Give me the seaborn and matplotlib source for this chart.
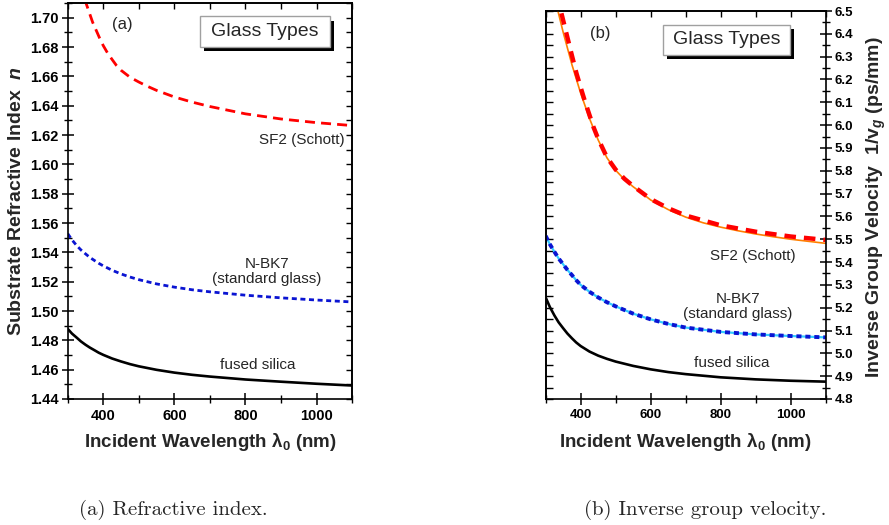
import matplotlib
matplotlib.use("Agg")
import matplotlib.pyplot as plt
import seaborn as sns
from matplotlib.ticker import MultipleLocator, FormatStrFormatter
from matplotlib.patches import Rectangle

# ---------------- data ----------------
# panel (a): refractive index
wl_sf2_a = [340, 350, 360, 370, 380, 390, 400, 412, 425, 437, 450, 475, 500, 525, 550,
            600, 650, 700, 800, 900, 1000, 1100]
n_sf2 = [1.719, 1.711, 1.704, 1.697, 1.6915, 1.686, 1.681, 1.676, 1.6715, 1.6675, 1.6642,
         1.6595, 1.6562, 1.6532, 1.6505, 1.6460, 1.6425, 1.6395, 1.6345, 1.6310, 1.6285, 1.6265]
wl_a = [300, 312, 325, 337, 350, 362, 375, 387, 400, 425, 450, 475, 500, 550, 600, 650,
        700, 800, 900, 1000, 1100]
n_bk7 = [1.5528, 1.5485, 1.5447, 1.5417, 1.5390, 1.5366, 1.5345, 1.5326, 1.5308, 1.5278,
         1.5253, 1.5232, 1.5214, 1.5185, 1.5163, 1.5145, 1.5131, 1.5108, 1.5090, 1.5075, 1.5062]
n_silica = [1.4878, 1.4846, 1.4819, 1.4793, 1.4770, 1.4751, 1.4733, 1.4716, 1.4701, 1.4676,
            1.4656, 1.4638, 1.4623, 1.4599, 1.4580, 1.4565, 1.4553, 1.4533, 1.4518, 1.4504,
            1.4492]

# panel (b): inverse group velocity (ps/mm)
wl_sf2_fit = [320, 327, 335, 350, 375, 400, 425, 450, 475, 500, 525, 550, 575, 600, 650,
              700, 750, 800, 850, 900, 950, 1000, 1050, 1100]
vg_sf2_fit = [6.62, 6.555, 6.50, 6.407, 6.265, 6.140, 6.030, 5.935, 5.857, 5.802, 5.762,
              5.730, 5.702, 5.672, 5.630, 5.597, 5.572, 5.553, 5.537, 5.523, 5.511, 5.500,
              5.491, 5.482]
wl_sf2_b = [345, 362, 375, 388, 400, 412, 425, 437, 450, 475, 500, 525, 550, 600, 650, 700,
            800, 900, 1000, 1100]
vg_sf2 = [6.49, 6.385, 6.305, 6.227, 6.165, 6.105, 6.045, 5.99, 5.94, 5.859, 5.805, 5.765,
          5.733, 5.676, 5.636, 5.604, 5.561, 5.533, 5.512, 5.497]
wl_b = [300, 312, 325, 337, 350, 362, 375, 387, 400, 425, 450, 475, 500, 550, 600, 650,
        700, 800, 900, 1000, 1100]
vg_bk7 = [5.515, 5.478, 5.445, 5.416, 5.390, 5.366, 5.343, 5.321, 5.300, 5.270, 5.245,
          5.224, 5.206, 5.174, 5.149, 5.129, 5.113, 5.094, 5.083, 5.076, 5.070]
vg_silica = [5.245, 5.203, 5.166, 5.136, 5.110, 5.087, 5.066, 5.048, 5.032, 5.008, 4.990,
             4.976, 4.964, 4.945, 4.930, 4.918, 4.909, 4.895, 4.886, 4.880, 4.876]

glass_labels = ["SF2 (Schott)", "N-BK7\n(standard glass)", "fused silica"]
box_title = "Glass Types"
captions = ["(a) Refractive index.", "(b) Inverse group velocity."]

# ---------------- style ----------------
sns.set_theme(style="ticks")
plt.rcParams["font.family"] = ["Liberation Sans", "DejaVu Sans"]
plt.rcParams["font.weight"] = "bold"
plt.rcParams["mathtext.fontset"] = "custom"
plt.rcParams["mathtext.rm"] = "Liberation Sans:bold"
plt.rcParams["mathtext.bf"] = "Liberation Sans:bold"
plt.rcParams["mathtext.it"] = "Liberation Sans:italic:bold"
plt.rcParams["axes.linewidth"] = 1.2
plt.rcParams["axes.edgecolor"] = "black"
plt.rcParams["xtick.color"] = "black"
plt.rcParams["ytick.color"] = "black"

fig = plt.figure(figsize=(8.89, 5.25), dpi=100)
axa = fig.add_axes([0.0762, 0.240, 0.3198, 0.754])
axb = fig.add_axes([0.6138, 0.240, 0.3150, 0.739])

RED = "#ff0000"
BLUE = "#0a14d2"

# ---------------- panel (a) ----------------
sns.lineplot(x=wl_sf2_a, y=n_sf2, ax=axa, color=RED, lw=2.0, ls=(0, (3.6, 2.2)))
sns.lineplot(x=wl_a, y=n_bk7, ax=axa, color=BLUE, lw=2.0, ls=(0, (1.8, 1.3)))
sns.lineplot(x=wl_a, y=n_silica, ax=axa, color="black", lw=1.9)
axa.set_xlim(300, 1100)
axa.set_ylim(1.44, 1.71)

# ---------------- panel (b) ----------------
sns.lineplot(x=wl_sf2_fit, y=vg_sf2_fit, ax=axb, color="#ff8000", lw=1.2)
sns.lineplot(x=wl_sf2_b, y=vg_sf2, ax=axb, color=RED, lw=3.2, ls=(0, (2.6, 1.8)))
sns.lineplot(x=wl_b, y=vg_bk7, ax=axb, color="#33ccff", lw=1.6)
sns.lineplot(x=wl_b, y=vg_bk7, ax=axb, color=BLUE, lw=2.8, ls=(0, (1.3, 1.0)))
sns.lineplot(x=wl_b, y=vg_silica, ax=axb, color="black", lw=1.9)
axb.set_xlim(300, 1100)
axb.set_ylim(4.8, 6.5)

for ax, ls in ((axa, 10.5), (axb, 9.5)):
    for s in ax.spines.values():
        s.set_visible(True)
        s.set_linewidth(1.2)
    ax.xaxis.set_major_locator(MultipleLocator(200))
    ax.xaxis.set_minor_locator(MultipleLocator(100))
    ax.tick_params(axis="x", which="major", direction="inout", length=9, width=1.1,
                   labelsize=ls, pad=3, top=False)
    ax.tick_params(axis="x", which="minor", direction="inout", length=6, width=1.0, top=False)
    sx = ax.secondary_xaxis("top")
    sx.xaxis.set_major_locator(MultipleLocator(100))
    sx.tick_params(axis="x", which="major", direction="in", length=4, width=1.0,
                   labeltop=False)
    sx.spines["top"].set_linewidth(1.2)

# y ticks panel (a): crossing on left, inward on right
axa.yaxis.set_major_locator(MultipleLocator(0.02))
axa.yaxis.set_minor_locator(MultipleLocator(0.01))
axa.yaxis.set_major_formatter(FormatStrFormatter("%.2f"))
axa.tick_params(axis="y", which="major", direction="inout", length=9, width=1.1,
                labelsize=10.5, pad=2, right=False)
axa.tick_params(axis="y", which="minor", direction="inout", length=6, width=1.0, right=False)
sya = axa.secondary_yaxis("right")
sya.yaxis.set_major_locator(MultipleLocator(0.01))
sya.tick_params(axis="y", which="major", direction="in", length=4, width=1.0, labelright=False)

# y ticks panel (b): crossing with labels on right, inward on left
axb.yaxis.tick_right()
axb.yaxis.set_label_position("right")
axb.yaxis.set_major_locator(MultipleLocator(0.1))
axb.yaxis.set_minor_locator(MultipleLocator(0.05))
axb.yaxis.set_major_formatter(FormatStrFormatter("%.1f"))
axb.tick_params(axis="y", which="major", direction="inout", length=9, width=1.1,
                labelsize=9.5, pad=2, left=False, right=True)
axb.tick_params(axis="y", which="minor", direction="inout", length=6, width=1.0,
                left=False, right=True)
syb = axb.secondary_yaxis("left")
syb.yaxis.set_major_locator(MultipleLocator(0.05))
syb.tick_params(axis="y", which="major", direction="in", length=5, width=1.0, labelleft=False)

# axis labels
xl = r"Incident Wavelength $\mathrm{\lambda_0}$ (nm)"
axa.set_xlabel(xl, fontsize=13.5, fontweight="bold")
axb.set_xlabel(xl, fontsize=13.5, fontweight="bold")
axa.xaxis.set_label_coords(0.5, -0.08)
axb.xaxis.set_label_coords(0.5, -0.083)
axa.set_ylabel(r"Substrate Refractive Index  $n$", fontsize=14, fontweight="bold")
axa.yaxis.set_label_coords(-0.15, 0.5)
axb.set_ylabel(r"Inverse Group Velocity  $\mathrm{1/v_{\mathit{g}}}$ (ps/mm)", fontsize=14,
               fontweight="bold", rotation=90)
axb.yaxis.set_label_coords(1.14, 0.495)

# annotations
axa.text(0.191, 0.947, "(a)", transform=axa.transAxes, fontsize=12, fontweight="normal",
         ha="center", va="center")
axb.text(0.194, 0.943, "(b)", transform=axb.transAxes, fontsize=12, fontweight="normal",
         ha="center", va="center")

axa.text(1080, 1.6164, glass_labels[0], ha="right", va="center", fontsize=11, fontweight="normal")
axa.text(860, 1.5268, glass_labels[1], ha="center", va="center", fontsize=11,
         fontweight="normal", linespacing=1.1)
axa.text(835, 1.4631, glass_labels[2], ha="center", va="center", fontsize=11, fontweight="normal")

axb.text(892, 5.427, glass_labels[0], ha="center", va="center", fontsize=11, fontweight="normal")
axb.text(849, 5.204, glass_labels[1], ha="center", va="center", fontsize=11,
         fontweight="normal", linespacing=1.1)
axb.text(831, 4.956, glass_labels[2], ha="center", va="center", fontsize=11, fontweight="normal")


def glass_box(ax, x0, x1, y0, y1, dx, dy):
    ax.add_patch(Rectangle((x0 + dx, y0 - dy), x1 - x0, y1 - y0, transform=ax.transAxes,
                           facecolor="black", edgecolor="none", zorder=5))
    ax.add_patch(Rectangle((x0, y0), x1 - x0, y1 - y0, transform=ax.transAxes,
                           facecolor="white", edgecolor="#a0a0a0", lw=1.0, zorder=6))
    ax.text((x0 + x1) / 2, (y0 + y1) / 2, box_title, transform=ax.transAxes, ha="center",
            va="center", fontsize=14, fontweight="normal", zorder=7)


glass_box(axa, 0.465, 0.923, 0.889, 0.967, 0.015, 0.011)
glass_box(axb, 0.419, 0.8725, 0.887, 0.964, 0.015, 0.011)

# captions
fig.text(0.195, 0.028, captions[0], ha="center", va="center", fontsize=15,
         fontweight="normal", family=["cmr10", "DejaVu Serif"])
fig.text(0.793, 0.028, captions[1], ha="center", va="center", fontsize=15,
         fontweight="normal", family=["cmr10", "DejaVu Serif"])

fig.savefig("out.png", dpi=100)
